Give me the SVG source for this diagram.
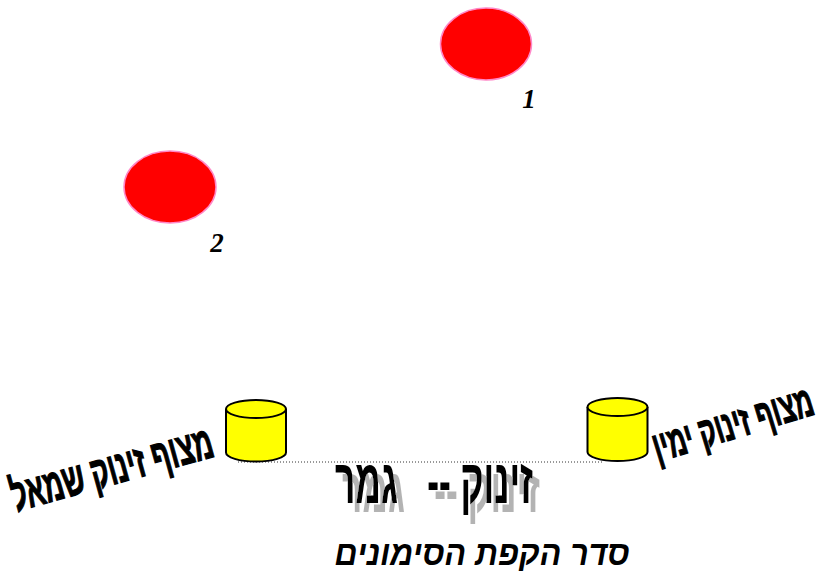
<svg xmlns="http://www.w3.org/2000/svg" width="837" height="573" viewBox="0 0 837 573">
<style>
.dot{fill:#ff0000;stroke:#ff88c8;stroke-width:1.5}
.num{font-family:"Liberation Serif","DejaVu Serif",serif;font-weight:bold;font-style:italic;font-size:27px;fill:#000}
.cyl{fill:#ffff00;stroke:#000;stroke-width:2}
.lbl{font-family:"Liberation Sans","DejaVu Sans",sans-serif;font-weight:bold;font-size:30px;fill:#000;stroke:#000;stroke-width:0.8}
.big{font-family:"Liberation Sans","DejaVu Sans",sans-serif;font-weight:bold;font-size:42px;fill:#000}
.ttl{font-family:"Liberation Sans","DejaVu Sans",sans-serif;font-weight:bold;font-style:italic;font-size:34px;fill:#000}
</style>
<defs>
<filter id="shadow" x="-10%" y="-20%" width="130%" height="160%">
<feFlood flood-color="#b3b3b3" result="g"/>
<feComposite in="g" in2="SourceAlpha" operator="in" result="s"/>
<feOffset in="s" dx="7" dy="6" result="o"/>
<feMerge><feMergeNode in="o"/><feMergeNode in="SourceGraphic"/></feMerge>
</filter>
</defs>
<rect width="837" height="573" fill="#fff"/>
<g id="marker1"><ellipse class="dot" cx="486" cy="44" rx="45.5" ry="36"/><text class="num" x="529" y="108" text-anchor="middle">1</text></g>
<g id="marker2"><ellipse class="dot" cx="170" cy="187" rx="46" ry="36"/><text class="num" x="217" y="252" text-anchor="middle">2</text></g>
<g id="connectors"><line x1="238" y1="462" x2="604" y2="462" stroke="#333" stroke-width="1" stroke-dasharray="1,2"/></g>
<g id="buoyLeft">
<path class="cyl" d="M226,409 V452.5 A30,9 0 0 0 286,452.5 V409"/>
<ellipse class="cyl" cx="256" cy="409" rx="30" ry="9"/>
</g>
<g id="buoyRight">
<path class="cyl" d="M587.5,407 V452 A30,9 0 0 0 647.5,452 V407"/>
<ellipse class="cyl" cx="617.5" cy="407" rx="30" ry="9"/>
</g>
<g id="labelLeft"><text class="lbl" transform="translate(116,484) rotate(-15.5) scale(1,1.53)" text-anchor="middle" textLength="208" lengthAdjust="spacingAndGlyphs">מצוף זינוק שמאל</text></g>
<g id="labelRight"><text class="lbl" style="font-size:28px" transform="translate(737,438) rotate(-17) scale(1,1.54)" text-anchor="middle" textLength="166" lengthAdjust="spacingAndGlyphs">מצוף זינוק ימין</text></g>
<g id="startFinish">
<text class="big" transform="translate(434,503) scale(1,1.5)" x="0" y="0" filter="url(#shadow)" text-anchor="middle" textLength="198" lengthAdjust="spacingAndGlyphs" xml:space="preserve">זינוק --   גמר</text>
</g>
<g id="title"><text class="ttl" x="482" y="565" text-anchor="middle" textLength="295" lengthAdjust="spacingAndGlyphs">סדר הקפת הסימונים</text></g>
</svg>
